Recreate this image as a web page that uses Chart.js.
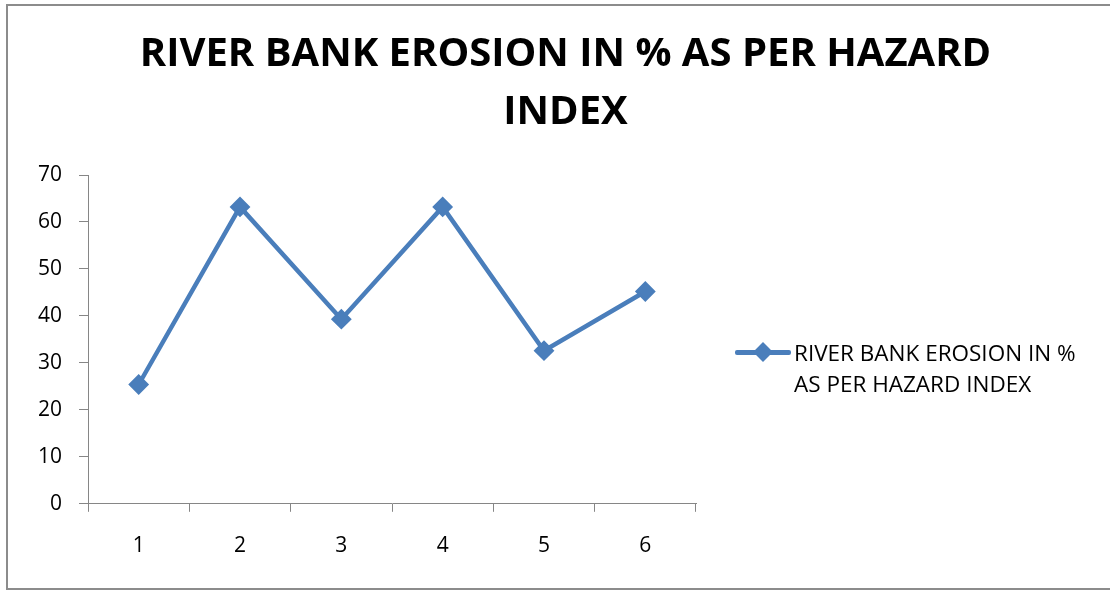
<!DOCTYPE html>
<html>
<head>
<meta charset="utf-8">
<script src="https://cdn.jsdelivr.net/npm/chart.js@4/dist/chart.umd.min.js"></script>
<style>
  html, body { margin: 0; padding: 0; background: #fff; overflow: hidden; }
  #wrap { position: relative; width: 1110px; height: 594px; }
  #frame { position: absolute; left: 6px; top: 4px; width: 1120px; height: 586px;
           border: 2px solid #8c8c8c; box-sizing: border-box; pointer-events: none; }
  #legend { position: absolute; left: 735px; top: 337px; font-family: 'Open Sans', sans-serif;
            font-size: 22.5px; line-height: 31px; color: #000; }
  #legend .row { display: flex; align-items: flex-start; }
  #legend .mark { position: relative; width: 56px; height: 31px; margin-right: 3px; flex: none; }
  #legend .mark .ln { position: absolute; left: 0; right: 0; top: 13px; height: 5px; border-radius: 2px; }
  #legend .mark .dm { position: absolute; left: 21px; top: 8px; width: 14px; height: 14px; transform: rotate(45deg); }
</style>
</head>
<body>
<div id="wrap">
  <canvas id="myChart" width="1110" height="594"></canvas>
  <div id="frame"></div>
  <div id="legend"></div>
</div>
<script>
var titulo = ['RIVER BANK EROSION IN % AS PER HAZARD', 'INDEX'];
var etiquetas = ['1', '2', '3', '4', '5', '6'];
var serieNombre = 'RIVER BANK EROSION IN % AS PER HAZARD INDEX';
var serieValores = [25.4, 63.2, 39.3, 63.2, 32.6, 45.2];
var yTicks = [0, 10, 20, 30, 40, 50, 60, 70];

var azul = '#4a7ebb';
var gris = '#868686';

var canva = document.getElementById('myChart');
var myChart = new Chart(canva, {
   type: 'line',
   data: {
      labels: etiquetas,
      datasets: [
         {
            label: serieNombre,
            data: serieValores,
            borderColor: azul,
            backgroundColor: azul,
            borderWidth: 4.5,
            pointStyle: 'rectRot',
            pointRadius: 9,
            pointBorderWidth: 2,
            pointBackgroundColor: azul,
            pointBorderColor: azul,
            tension: 0
         }
      ]
   },
   options: {
      responsive: false,
      animation: false,
      layout: { padding: { left: 21, right: 0, top: 0, bottom: 13 } },
      plugins: {
         legend: { display: false },
         tooltip: { enabled: false },
         title: {
            display: true,
            text: titulo,
            color: '#000',
            font: { family: 'Open Sans', size: 40, weight: 'bold', lineHeight: 1.45 },
            padding: { top: 26, bottom: 33 }
         }
      },
      scales: {
         x: {
            offset: true,
            grid: { display: true, offset: true, drawOnChartArea: false, drawTicks: true, tickLength: 8, color: gris },
            border: { display: true, color: gris, width: 1 },
            ticks: { color: '#000', padding: 22, font: { family: 'Open Sans', size: 21 } }
         },
         y: {
            min: 0,
            max: 70,
            afterBuildTicks: function (s) { s.ticks = yTicks.map(function (v) { return { value: v }; }); },
            grid: { display: true, drawOnChartArea: false, drawTicks: true, tickLength: 9, color: gris },
            border: { display: true, color: gris, width: 1 },
            ticks: { color: '#000', padding: 17, font: { family: 'Open Sans', size: 21 } }
         },
         // eje vacio a la derecha: deja el hueco de la leyenda sin mover el titulo
         hueco: {
            type: 'linear',
            position: 'right',
            display: true,
            grid: { display: false },
            border: { display: false },
            ticks: { display: false },
            afterFit: function (s) { s.width = 414; }
         }
      }
   }
});

// leyenda a la derecha, en dos renglones como el original
var ds = myChart.data.datasets[0];
var leg = document.getElementById('legend');
var palabras = ds.label.split(' ');
var l1 = palabras.slice(0, 5).join(' ');
var l2 = palabras.slice(5).join(' ');
leg.innerHTML =
   '<div class="row"><div class="mark"><div class="ln" style="background:' + ds.borderColor + '"></div>' +
   '<div class="dm" style="background:' + ds.borderColor + '"></div></div>' +
   '<div>' + l1 + '<br>' + l2 + '</div></div>';
</script>
</body>
</html>
